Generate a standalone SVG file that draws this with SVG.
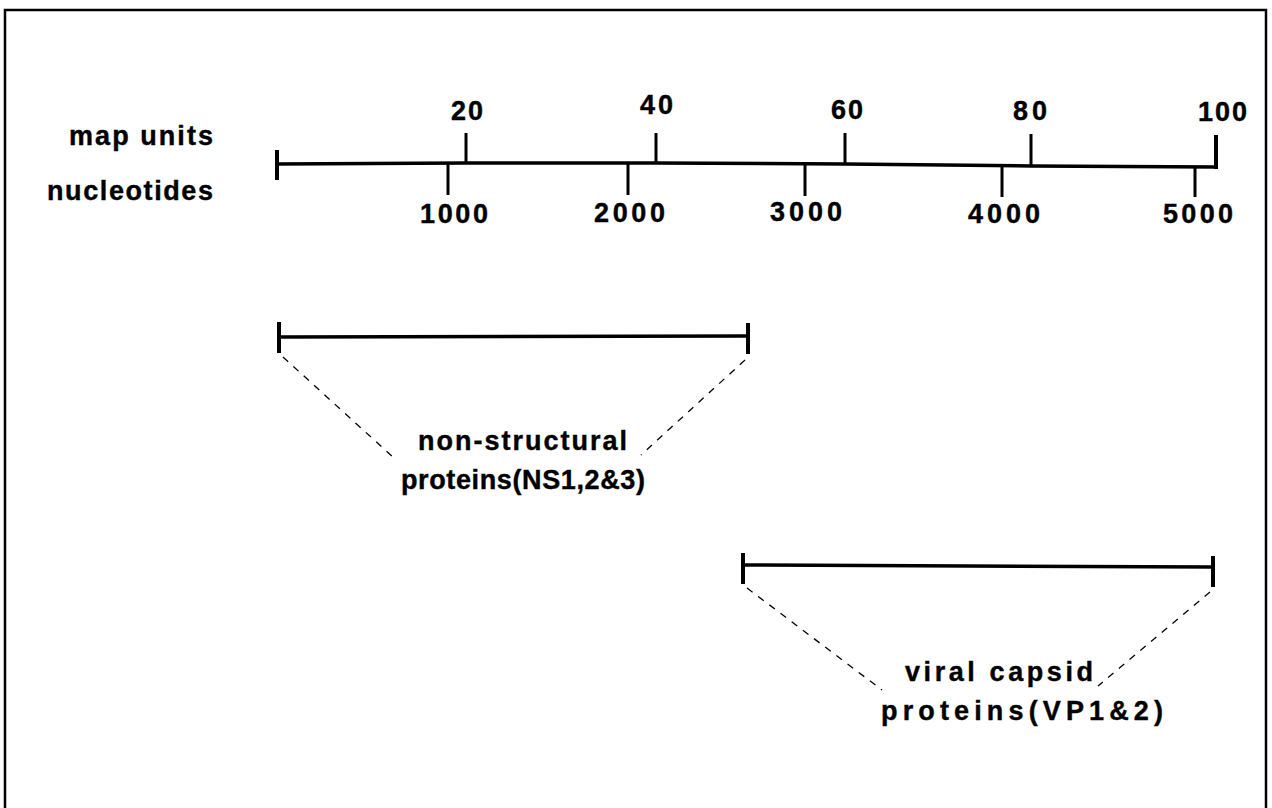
<svg xmlns="http://www.w3.org/2000/svg" width="1272" height="808" viewBox="0 0 1272 808">
<style>
.t{font-family:"Liberation Sans",Arial,sans-serif;font-weight:bold;font-size:27px;fill:#000;stroke:#000;stroke-width:0.4}
.ln{stroke:#000;stroke-width:3.5;fill:none;stroke-linecap:butt}
.cap{stroke:#000;stroke-width:4;fill:none}
.tk{stroke:#000;stroke-width:3;fill:none}
.dash{stroke:#000;stroke-width:1.3;fill:none;stroke-dasharray:7 7}
</style>
<rect x="5" y="10" width="1261" height="820" fill="#fff" stroke="#000" stroke-width="2.5"/>
<g id="scale">
<polyline class="ln" points="276,164 466,163 656,163 845,164 1031,166 1216,167"/>
<line class="cap" x1="277" y1="150" x2="277" y2="180"/>
<line class="tk" x1="466" y1="133" x2="466" y2="163"/>
<line class="tk" x1="656" y1="133" x2="656" y2="163"/>
<line class="tk" x1="845" y1="133" x2="845" y2="164"/>
<line class="tk" x1="1031" y1="134" x2="1031" y2="166"/>
<line class="cap" x1="1216" y1="135" x2="1216" y2="169"/>
<line class="tk" x1="448" y1="163" x2="448" y2="195"/>
<line class="tk" x1="628" y1="163" x2="628" y2="195"/>
<line class="tk" x1="805" y1="164" x2="805" y2="196"/>
<line class="tk" x1="1002" y1="166" x2="1002" y2="197"/>
<line class="tk" x1="1195" y1="167" x2="1195" y2="197"/>
<text class="t" x="69" y="145" textLength="144" lengthAdjust="spacing">map units</text>
<text class="t" x="47" y="200" textLength="166" lengthAdjust="spacing">nucleotides</text>
<text class="t" x="451" y="120" textLength="32" lengthAdjust="spacing">20</text>
<text class="t" x="640" y="114" textLength="33" lengthAdjust="spacing">40</text>
<text class="t" x="831" y="119" textLength="32" lengthAdjust="spacing">60</text>
<text class="t" x="1013" y="120" textLength="34" lengthAdjust="spacing">80</text>
<text class="t" x="1198" y="121" textLength="49" lengthAdjust="spacing">100</text>
<text class="t" x="420" y="223" textLength="68" lengthAdjust="spacing">1000</text>
<text class="t" x="594" y="222" textLength="71" lengthAdjust="spacing">2000</text>
<text class="t" x="770" y="221" textLength="72" lengthAdjust="spacing">3000</text>
<text class="t" x="968" y="223" textLength="72" lengthAdjust="spacing">4000</text>
<text class="t" x="1163" y="223" textLength="70" lengthAdjust="spacing">5000</text>
</g>
<g id="ns-segment">
<line class="ln" x1="279" y1="337" x2="748" y2="336"/>
<line class="cap" x1="279" y1="322" x2="279" y2="353"/>
<line class="cap" x1="748" y1="323" x2="748" y2="354"/>
<text class="t" x="418" y="450" textLength="209" lengthAdjust="spacing">non-structural</text>
<text class="t" x="401" y="489" textLength="244" lengthAdjust="spacing">proteins(NS1,2&amp;3)</text>
</g>
<g id="vp-segment">
<line class="ln" x1="743" y1="565" x2="1213" y2="567"/>
<line class="cap" x1="743" y1="553" x2="743" y2="584"/>
<line class="cap" x1="1213" y1="556" x2="1213" y2="587"/>
<text class="t" x="905" y="681" textLength="188" lengthAdjust="spacing">viral capsid</text>
<text class="t" x="881" y="720" textLength="282" lengthAdjust="spacing">proteins(VP1&amp;2)</text>
</g>
<g id="connectors">
<line class="dash" x1="283" y1="357" x2="394" y2="458"/>
<line class="dash" x1="745" y1="360" x2="641" y2="455"/>
<line class="dash" x1="747" y1="588" x2="882" y2="690"/>
<line class="dash" x1="1210" y1="592" x2="1098" y2="686"/>
</g>
</svg>
